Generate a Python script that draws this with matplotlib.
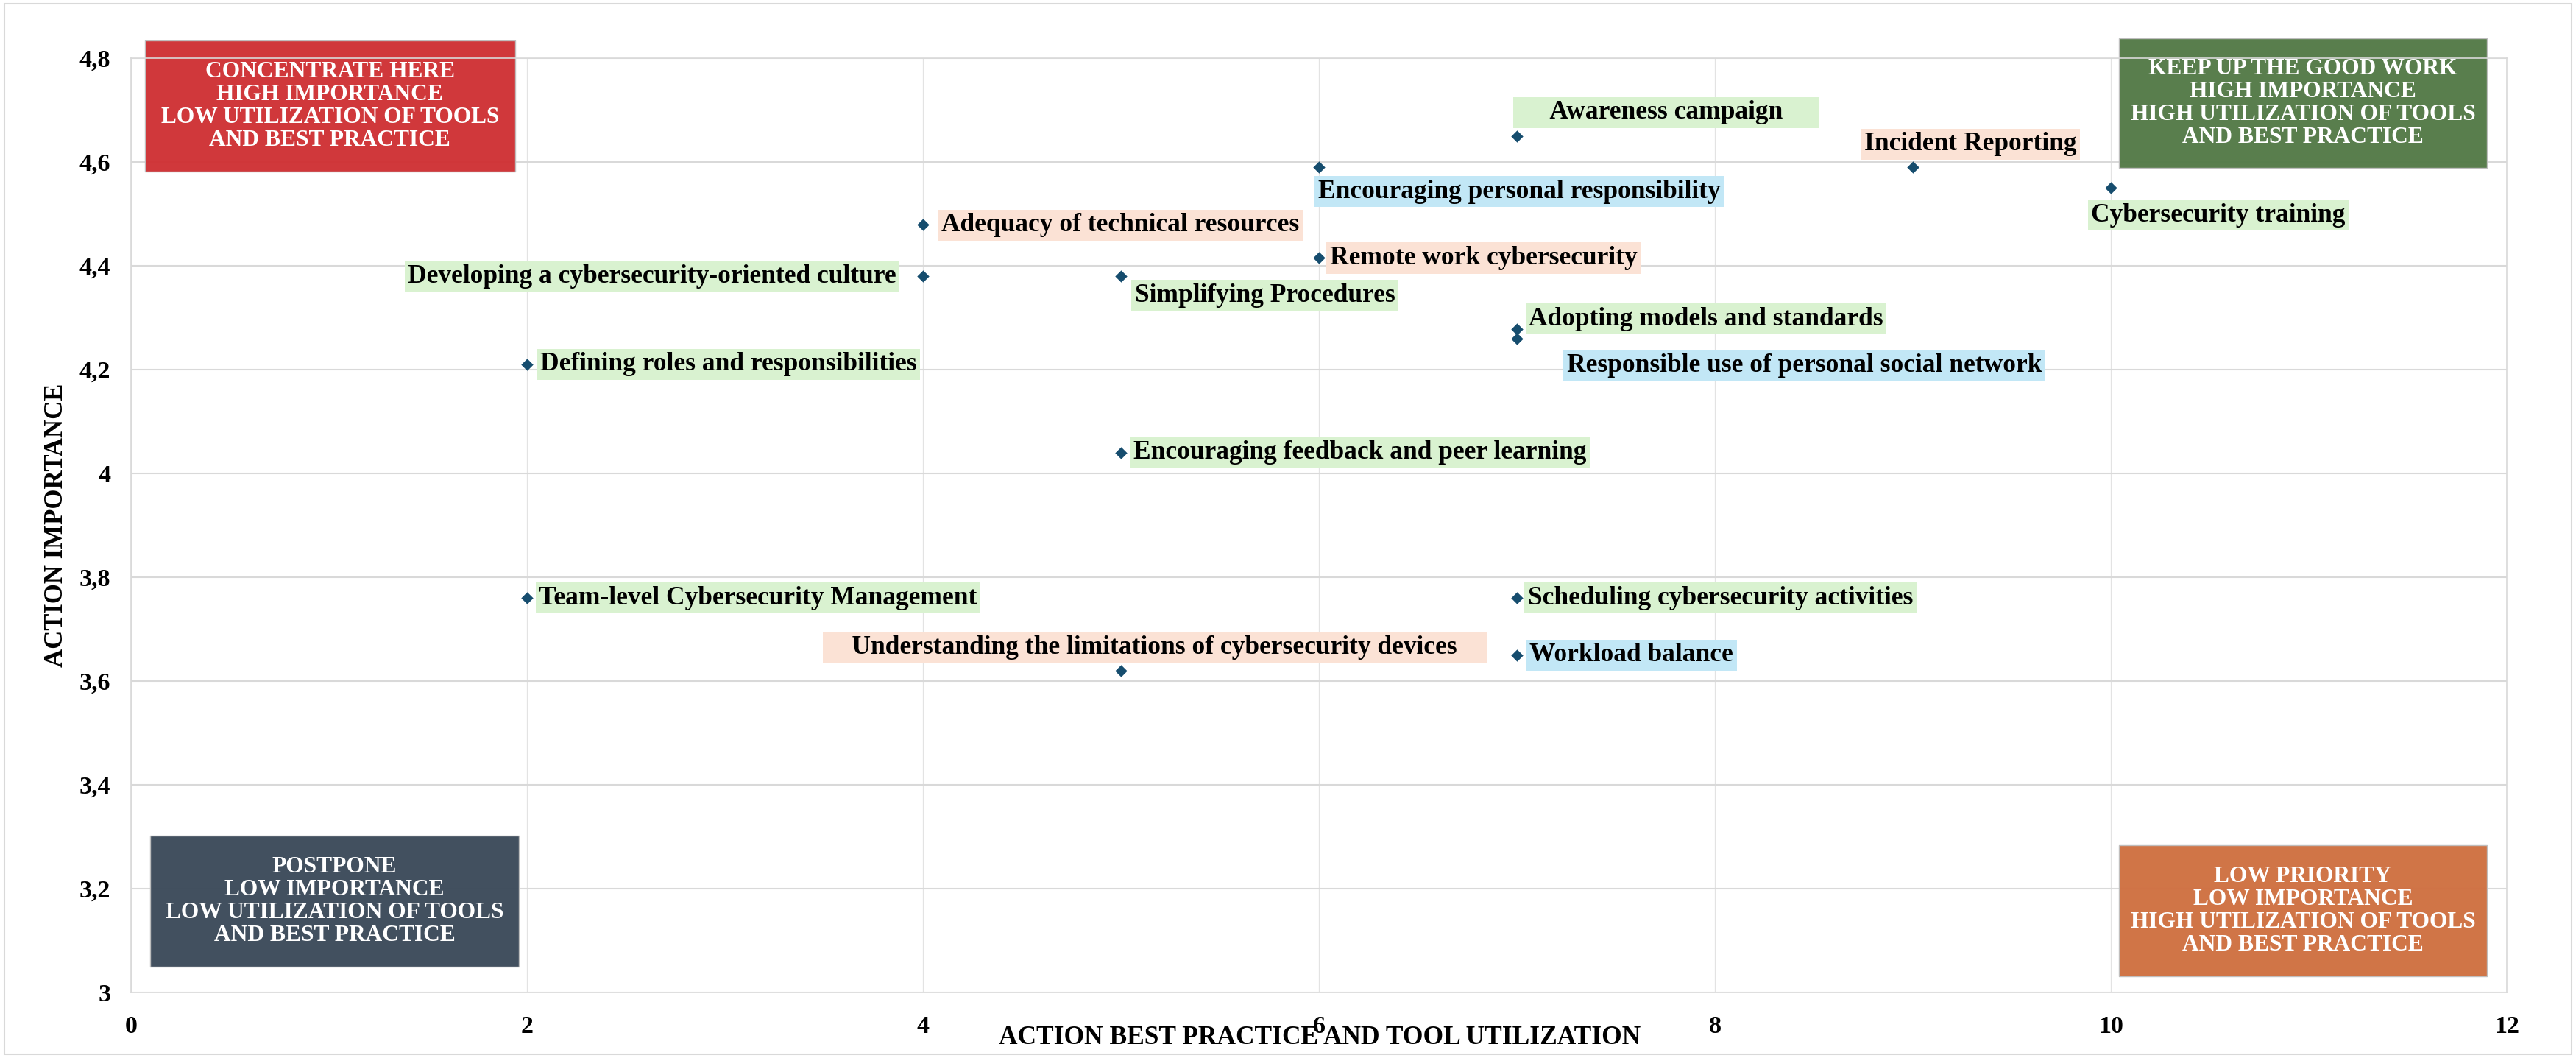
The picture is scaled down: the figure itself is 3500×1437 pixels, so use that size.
import matplotlib
matplotlib.use("Agg")
import matplotlib.pyplot as plt
from matplotlib.patches import Rectangle

# --- data -------------------------------------------------------------
actions = [
    "Awareness campaign",
    "Encouraging personal responsibility",
    "Incident Reporting",
    "Cybersecurity training",
    "Adequacy of technical resources",
    "Remote work cybersecurity",
    "Developing a cybersecurity-oriented culture",
    "Simplifying Procedures",
    "Adopting models and standards",
    "Responsible use of personal social network",
    "Defining roles and responsibilities",
    "Encouraging feedback and peer learning",
    "Team-level Cybersecurity Management",
    "Scheduling cybersecurity activities",
    "Understanding the limitations of cybersecurity devices",
    "Workload balance",
]
utilization = [7, 6, 9, 10, 4, 6, 4, 5, 7, 7, 2, 5, 2, 7, 5, 7]
importance = [4.65, 4.59, 4.59, 4.55, 4.48, 4.415, 4.38, 4.38,
              4.278, 4.26, 4.21, 4.04, 3.76, 3.76, 3.62, 3.65]
label_group = ["green", "blue", "salmon", "green", "salmon", "salmon",
               "green", "green", "green", "blue", "green", "green",
               "green", "green", "salmon", "blue"]

quadrant_titles = [
    "CONCENTRATE HERE\nHIGH IMPORTANCE\nLOW UTILIZATION OF TOOLS\nAND BEST PRACTICE",
    "KEEP UP THE GOOD WORK\nHIGH IMPORTANCE\nHIGH UTILIZATION OF TOOLS\nAND BEST PRACTICE",
    "POSTPONE\nLOW IMPORTANCE\nLOW UTILIZATION OF TOOLS\nAND BEST PRACTICE",
    "LOW PRIORITY\nLOW IMPORTANCE\nHIGH UTILIZATION OF TOOLS\nAND BEST PRACTICE",
]

y_ticks = [3, 3.2, 3.4, 3.6, 3.8, 4, 4.2, 4.4, 4.6, 4.8]
y_tick_labels = ["3", "3,2", "3,4", "3,6", "3,8", "4", "4,2", "4,4", "4,6", "4,8"]
x_ticks = [0, 2, 4, 6, 8, 10, 12]

# --- layout / style ---------------------------------------------------
palette = {"green": "#d9f2d0", "salmon": "#fbe2d5", "blue": "#c2e7f6"}
# label box centre offsets from each point, in points
label_offsets = [(146, 23), (196, -24), (56, 22.5), (105, -26.5),
                 (193, -1), (161, 0), (-265, 0), (141, -19),
                 (185, 10), (281, -26.5), (197, 0), (234, 0),
                 (226, 0), (199, 0), (33, 22.5), (112, 0)]
# a couple of label boxes are wider than their text in the original
label_side_pad = [5, 0, 0, 0, 0, 0, 0, 0, 0, 0, 0, 0, 0, 0, 4, 0]
quadrant_colors = ["#cf3134", "#537a47", "#3c4a5a", "#cf7041"]
quadrant_boxes = [(0.07, 4.582, 1.94, 4.834), (10.04, 4.589, 11.9, 4.838),
                  (0.097, 3.05, 1.96, 3.302), (10.04, 3.031, 11.9, 3.284)]

plt.rcParams["font.family"] = ["Liberation Serif", "DejaVu Serif"]
plt.rcParams["font.weight"] = "bold"

fig = plt.figure(figsize=(35, 14.37), dpi=100)
ax = fig.add_axes([178 / 3500, 89 / 1437, (3406 - 178) / 3500, (1348 - 79) / 1437])

ax.set_xlim(0, 12)
ax.set_ylim(3, 4.8)
ax.set_xticks(x_ticks)
ax.set_xticklabels([str(t) for t in x_ticks], fontsize=24.5, fontweight="bold")
ax.set_yticks(y_ticks)
ax.set_yticklabels(y_tick_labels, fontsize=24.5, fontweight="bold")
ax.tick_params(length=0, pad=20)
ax.tick_params(axis="x", pad=22)

ax.grid(axis="y", color="#d9d9d9", linewidth=1.5)
ax.grid(axis="x", color="#e3e3e3", linewidth=0.9)
ax.set_axisbelow(True)
for s in ax.spines.values():
    s.set_color("#d9d9d9")
    s.set_linewidth(1.2)

for (x0, y0, x1, y1), col, title in zip(quadrant_boxes, quadrant_colors, quadrant_titles):
    ax.add_patch(Rectangle((x0, y0), x1 - x0, y1 - y0, facecolor=col, alpha=0.97,
                           edgecolor="#bfbfbf", linewidth=1, zorder=2, clip_on=False))
    ax.text((x0 + x1) / 2, (y0 + y1) / 2, title, ha="center", va="center",
            color="white", fontsize=22.7, fontweight="bold", linespacing=1.1,
            zorder=3, clip_on=False)

ax.scatter(utilization, importance, marker="D", s=70, color="#164d6e", zorder=4,
           linewidths=0)

for name, x, y, grp, off, sp in zip(actions, utilization, importance, label_group,
                                    label_offsets, label_side_pad):
    pad = "\u00a0" * sp
    ax.annotate(pad + name + pad, (x, y), xytext=off, textcoords="offset points",
                ha="center", va="center", fontsize=25.5, fontweight="bold",
                bbox=dict(boxstyle="square,pad=0.13", facecolor=palette[grp], edgecolor="none"),
                zorder=5)

ax.set_ylabel("ACTION IMPORTANCE", fontsize=25, fontweight="bold", va="center")
ax.yaxis.set_label_coords(-101 / 3228, 0.5)
ax.set_xlabel("ACTION BEST PRACTICE AND TOOL UTILIZATION", fontsize=25.5,
              fontweight="bold", va="center")
ax.xaxis.set_label_coords((1793 - 178) / 3228, -61 / 1269)

fig.patches.append(Rectangle((6 / 3500, 5 / 1437), 3488 / 3500, 1427 / 1437,
                             transform=fig.transFigure, fill=False,
                             edgecolor="#d9d9d9", linewidth=1.5))

fig.savefig("out.png", dpi=100, facecolor="white")
